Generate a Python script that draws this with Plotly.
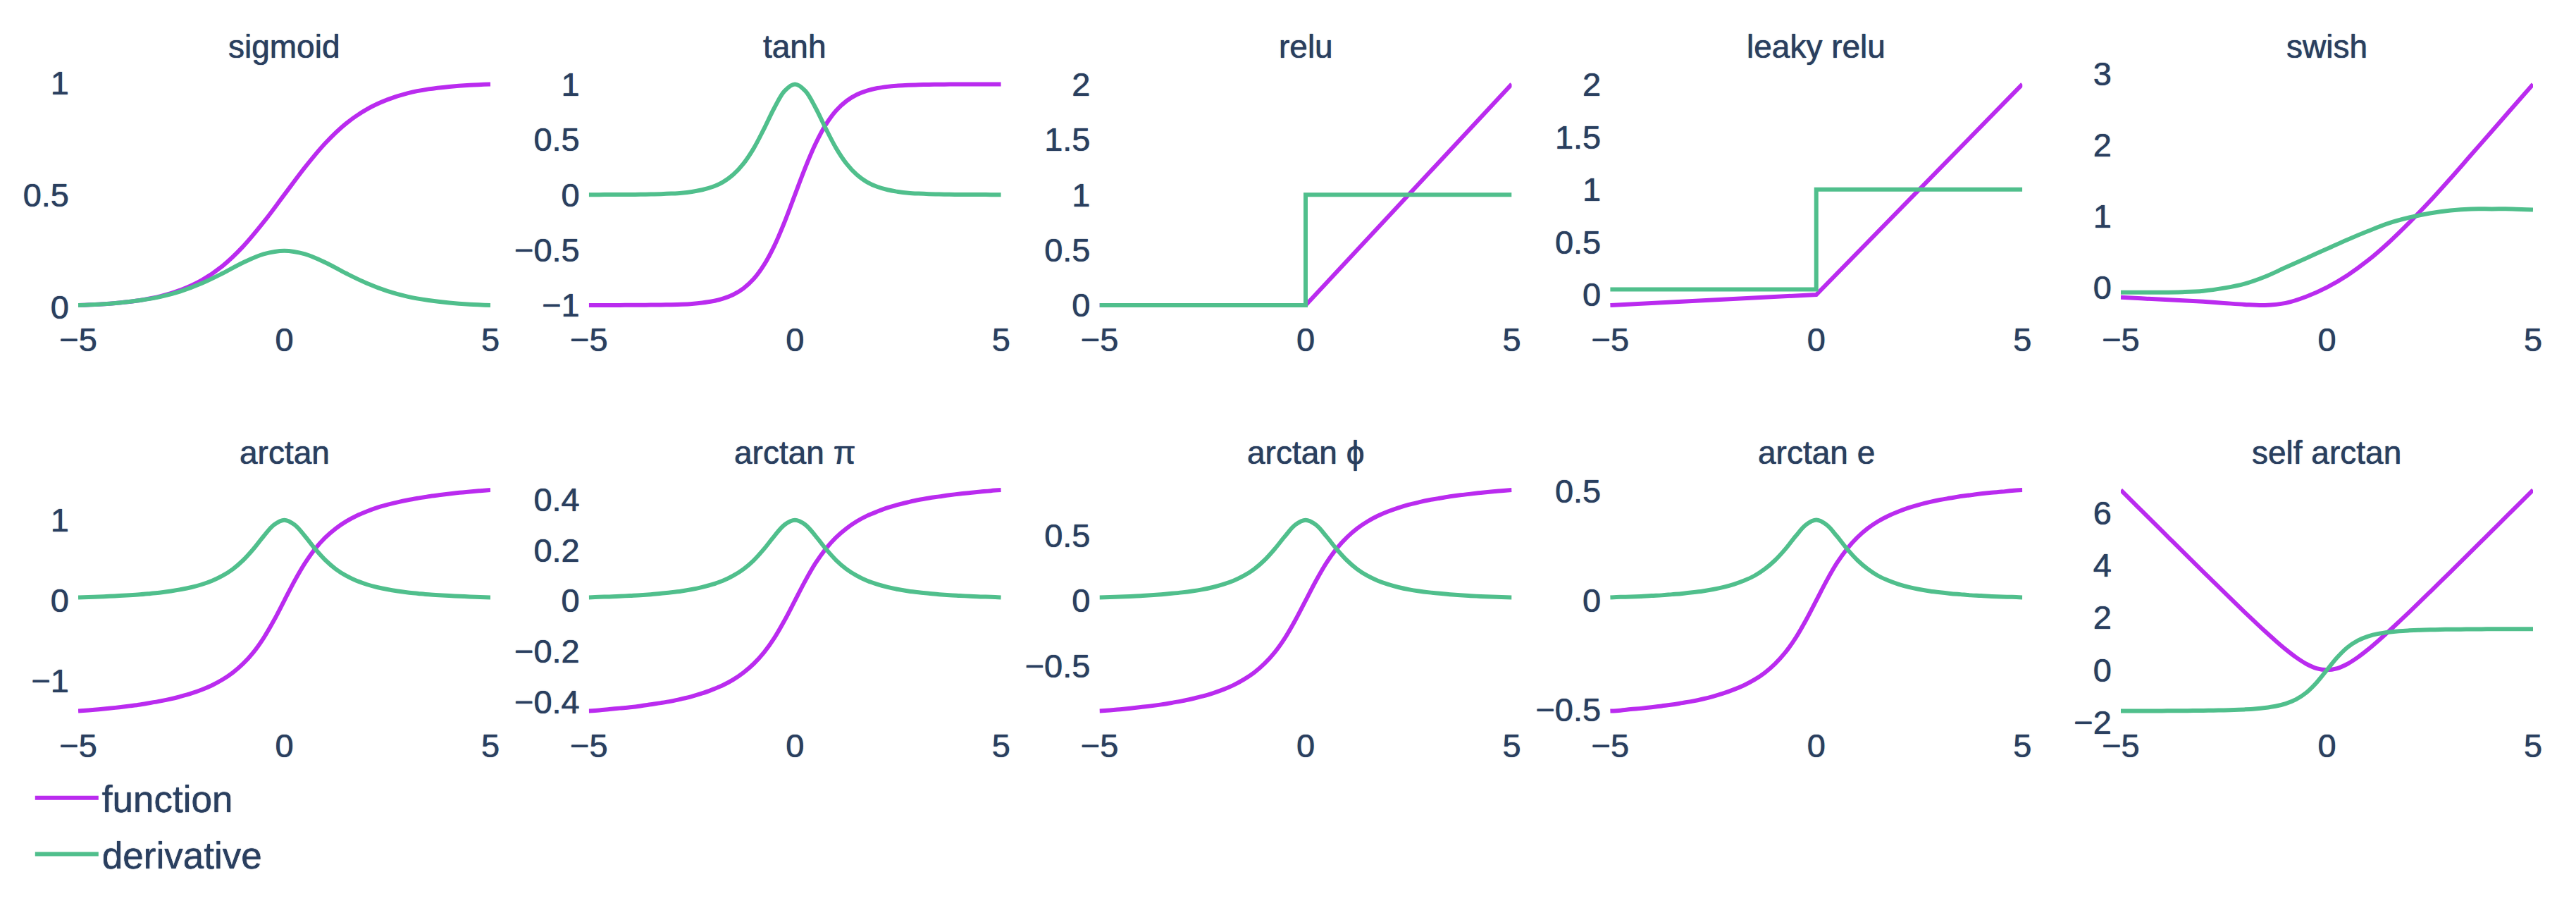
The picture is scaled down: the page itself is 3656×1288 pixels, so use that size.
import plotly.graph_objects as go
from plotly.subplots import make_subplots

## coarse x grid (sigmoid, swish)
X = [-5, -4.5, -4, -3.5, -3, -2.5, -2, -1.5, -1, -0.5, 0,
     0.5, 1, 1.5, 2, 2.5, 3, 3.5, 4, 4.5, 5]
## fine x grid (tanh, arctan family)
XF = [-5, -4.75, -4.5, -4.25, -4, -3.75, -3.5, -3.25, -3, -2.75, -2.5, -2.25, -2, -1.75,
      -1.5, -1.25, -1, -0.75, -0.5, -0.25, 0, 0.25, 0.5, 0.75, 1, 1.25, 1.5, 1.75,
      2, 2.25, 2.5, 2.75, 3, 3.25, 3.5, 3.75, 4, 4.25, 4.5, 4.75, 5]
## x points for the piecewise panels
RELU_X = [-5, 0, 5]
STEP_X = [-5, 0, 0, 5]

TITLES = ["sigmoid", "tanh", "relu", "leaky relu", "swish",
          "arctan", "arctan π", "arctan ϕ", "arctan e", "self arctan"]

SIGMOID_F = [0.007, 0.011, 0.018, 0.029, 0.047, 0.076, 0.119, 0.182, 0.269, 0.378, 0.5,
             0.622, 0.731, 0.818, 0.881, 0.924, 0.953, 0.971, 0.982, 0.989, 0.993]
SIGMOID_D = [0.007, 0.011, 0.018, 0.029, 0.045, 0.070, 0.105, 0.149, 0.197, 0.235, 0.25,
             0.235, 0.197, 0.149, 0.105, 0.070, 0.045, 0.029, 0.018, 0.011, 0.007]

TANH_F = [-1.0, -1.0, -1.0, -1.0, -0.999, -0.999, -0.998, -0.997, -0.995, -0.992, -0.987, -0.978, -0.964, -0.941,
          -0.905, -0.848, -0.762, -0.635, -0.462, -0.245, 0, 0.245, 0.462, 0.635, 0.762, 0.848, 0.905, 0.941,
          0.964, 0.978, 0.987, 0.992, 0.995, 0.997, 0.998, 0.999, 0.999, 1.0, 1.0, 1.0, 1.0]
TANH_D = [0.0, 0.0, 0.001, 0.001, 0.001, 0.002, 0.004, 0.006, 0.010, 0.016, 0.027, 0.044, 0.071, 0.114,
          0.181, 0.281, 0.420, 0.597, 0.786, 0.940, 1.0, 0.940, 0.786, 0.597, 0.420, 0.281, 0.181, 0.114,
          0.071, 0.044, 0.027, 0.016, 0.010, 0.006, 0.004, 0.002, 0.001, 0.001, 0.001, 0.0, 0.0]

RELU_F = [0, 0, 2]
RELU_D = [0, 0, 1, 1]

LEAKY_F = [-0.1, 0.0, 2]
LEAKY_D = [0.05, 0.05, 1, 1]

SWISH_F = [-0.14, -0.155, -0.17, -0.185, -0.2, -0.22, -0.24, -0.25, -0.22, -0.13, 0.0,
           0.17, 0.38, 0.63, 0.91, 1.21, 1.53, 1.86, 2.19, 2.52, 2.85]
SWISH_D = [-0.07, -0.07, -0.07, -0.065, -0.05, -0.01, 0.05, 0.15, 0.28, 0.41, 0.54,
           0.67, 0.79, 0.9, 0.98, 1.04, 1.08, 1.1, 1.1, 1.1, 1.09]

ATAN_F = [-1.373, -1.363, -1.352, -1.340, -1.326, -1.310, -1.293, -1.272, -1.249, -1.222, -1.190, -1.153, -1.107, -1.052,
          -0.983, -0.896, -0.785, -0.644, -0.464, -0.245, 0, 0.245, 0.464, 0.644, 0.785, 0.896, 0.983, 1.052,
          1.107, 1.153, 1.190, 1.222, 1.249, 1.272, 1.293, 1.310, 1.326, 1.340, 1.352, 1.363, 1.373]
ATAN_D = [0.038, 0.042, 0.047, 0.053, 0.059, 0.066, 0.075, 0.087, 0.1, 0.117, 0.138, 0.165, 0.2, 0.246,
          0.308, 0.390, 0.5, 0.64, 0.8, 0.941, 1.0, 0.941, 0.8, 0.64, 0.5, 0.390, 0.308, 0.246,
          0.2, 0.165, 0.138, 0.117, 0.1, 0.087, 0.075, 0.066, 0.059, 0.053, 0.047, 0.042, 0.038]

ATAN_PI_F = [-0.437, -0.434, -0.430, -0.426, -0.422, -0.417, -0.411, -0.405, -0.398, -0.389, -0.379, -0.367, -0.352, -0.335,
             -0.313, -0.285, -0.25, -0.205, -0.148, -0.078, 0, 0.078, 0.148, 0.205, 0.25, 0.285, 0.313, 0.335,
             0.352, 0.367, 0.379, 0.389, 0.398, 0.405, 0.411, 0.417, 0.422, 0.426, 0.430, 0.434, 0.437]
ATAN_PI_D = [0.012, 0.014, 0.015, 0.017, 0.019, 0.021, 0.024, 0.028, 0.032, 0.037, 0.044, 0.053, 0.064, 0.078,
             0.098, 0.124, 0.159, 0.204, 0.255, 0.300, 0.318, 0.300, 0.255, 0.204, 0.159, 0.124, 0.098, 0.078,
             0.064, 0.053, 0.044, 0.037, 0.032, 0.028, 0.024, 0.021, 0.019, 0.017, 0.015, 0.014, 0.012]

ATAN_PHI_F = [-0.849, -0.843, -0.836, -0.828, -0.819, -0.810, -0.799, -0.786, -0.772, -0.755, -0.736, -0.712, -0.684, -0.650,
              -0.607, -0.554, -0.485, -0.398, -0.287, -0.151, 0, 0.151, 0.287, 0.398, 0.485, 0.554, 0.607, 0.650,
              0.684, 0.712, 0.736, 0.755, 0.772, 0.786, 0.799, 0.810, 0.819, 0.828, 0.836, 0.843, 0.849]
ATAN_PHI_D = [0.024, 0.026, 0.029, 0.032, 0.036, 0.041, 0.047, 0.054, 0.062, 0.072, 0.085, 0.102, 0.124, 0.152,
              0.190, 0.241, 0.309, 0.396, 0.494, 0.582, 0.618, 0.582, 0.494, 0.396, 0.309, 0.241, 0.190, 0.152,
              0.124, 0.102, 0.085, 0.072, 0.062, 0.054, 0.047, 0.041, 0.036, 0.032, 0.029, 0.026, 0.024]

ATAN_E_F = [-0.505, -0.502, -0.497, -0.493, -0.488, -0.482, -0.476, -0.468, -0.460, -0.450, -0.438, -0.424, -0.407, -0.387,
            -0.362, -0.330, -0.289, -0.237, -0.171, -0.090, 0, 0.090, 0.171, 0.237, 0.289, 0.330, 0.362, 0.387,
            0.407, 0.424, 0.438, 0.450, 0.460, 0.468, 0.476, 0.482, 0.488, 0.493, 0.497, 0.502, 0.505]
ATAN_E_D = [0.014, 0.016, 0.017, 0.019, 0.022, 0.024, 0.028, 0.032, 0.037, 0.043, 0.051, 0.061, 0.074, 0.091,
            0.113, 0.144, 0.184, 0.235, 0.294, 0.346, 0.368, 0.346, 0.294, 0.235, 0.184, 0.144, 0.113, 0.091,
            0.074, 0.061, 0.051, 0.043, 0.037, 0.032, 0.028, 0.024, 0.022, 0.019, 0.017, 0.016, 0.014]

SELF_ATAN_F = [6.867, 6.476, 6.085, 5.694, 5.303, 4.913, 4.524, 4.135, 3.747, 3.361, 2.976, 2.593, 2.214, 1.841,
               1.474, 1.120, 0.785, 0.483, 0.232, 0.061, 0, 0.061, 0.232, 0.483, 0.785, 1.120, 1.474, 1.841,
               2.214, 2.593, 2.976, 3.361, 3.747, 4.135, 4.524, 4.913, 5.303, 5.694, 6.085, 6.476, 6.867]
SELF_ATAN_D = [-1.566, -1.565, -1.564, -1.563, -1.561, -1.559, -1.557, -1.553, -1.549, -1.543, -1.535, -1.524, -1.507, -1.483,
               -1.444, -1.384, -1.285, -1.124, -0.864, -0.480, 0, 0.480, 0.864, 1.124, 1.285, 1.384, 1.444, 1.483,
               1.507, 1.524, 1.535, 1.543, 1.549, 1.553, 1.557, 1.559, 1.561, 1.563, 1.564, 1.565, 1.566]

FUNC_COLOR = "#BA2BEF"
DERIV_COLOR = "#50BF8C"
FONT = "Liberation Sans"
TEXT_COLOR = "#2a3f5f"
## the reference text is soft and a bit heavy, a thin halo gets close
SHADOW = "0px 0px 1.2px rgba(42,63,95,0.9), 0px 0px 0.6px rgba(42,63,95,0.9)"

## (x_func, y_func, x_deriv, y_deriv, y dtick, shape)
panels = [
    (X, SIGMOID_F, X, SIGMOID_D, 0.5, "spline"),
    (XF, TANH_F, XF, TANH_D, 0.5, "spline"),
    (RELU_X, RELU_F, STEP_X, RELU_D, 0.5, "linear"),
    (RELU_X, LEAKY_F, STEP_X, LEAKY_D, 0.5, "linear"),
    (X, SWISH_F, X, SWISH_D, 1, "spline"),
    (XF, ATAN_F, XF, ATAN_D, 1, "spline"),
    (XF, ATAN_PI_F, XF, ATAN_PI_D, 0.2, "spline"),
    (XF, ATAN_PHI_F, XF, ATAN_PHI_D, 0.5, "spline"),
    (XF, ATAN_E_F, XF, ATAN_E_D, 0.5, "spline"),
    (XF, SELF_ATAN_F, XF, SELF_ATAN_D, 2, "spline"),
]

fig = make_subplots(rows=2, cols=5, subplot_titles=TITLES,
                    horizontal_spacing=0.0401, vertical_spacing=0.246)

for i, (xf, yf, xd, yd, dtick, shape) in enumerate(panels):
    row = i // 5 + 1
    col = i % 5 + 1
    first = (i == 0)
    fig.add_trace(go.Scatter(x=xf, y=yf, mode="lines", name="function",
                             line=dict(color=FUNC_COLOR, width=6, shape=shape),
                             legendgroup="function", showlegend=first),
                  row=row, col=col)
    fig.add_trace(go.Scatter(x=xd, y=yd, mode="lines", name="derivative",
                             line=dict(color=DERIV_COLOR, width=6, shape=shape),
                             legendgroup="derivative", showlegend=first),
                  row=row, col=col)
    fig.update_yaxes(dtick=dtick, row=row, col=col)

fig.update_xaxes(dtick=5, showgrid=False, zeroline=False, showline=False,
                 tickfont=dict(size=47, shadow=SHADOW))
fig.update_yaxes(showgrid=False, zeroline=False, showline=False,
                 ticklabelstandoff=12,
                 tickfont=dict(size=47, shadow=SHADOW))
fig.update_annotations(font=dict(size=46, family=FONT, color=TEXT_COLOR, shadow=SHADOW),
                       yshift=8)

fig.update_layout(
    template="plotly_white",
    width=3656, height=1288,
    margin=dict(l=103, r=69, t=94, b=270),
    font=dict(family=FONT, size=47, color=TEXT_COLOR),
    plot_bgcolor="white", paper_bgcolor="white",
    legend=dict(orientation="v", x=-0.019, xanchor="left", y=-0.07, yanchor="top",
                font=dict(size=53, shadow=SHADOW), itemwidth=90, tracegroupgap=8),
)

fig.write_html("out.html")
